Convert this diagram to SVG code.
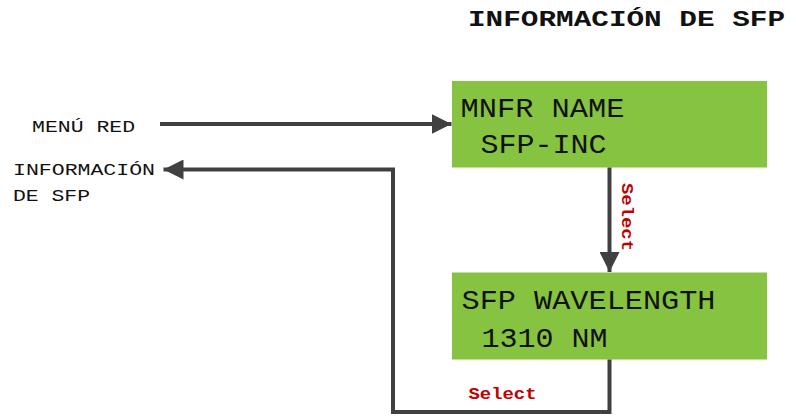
<svg xmlns="http://www.w3.org/2000/svg" width="796" height="417" viewBox="0 0 796 417">
  <style>
    .mono { font-family: "Courier New", "Liberation Mono", monospace; fill: #111; }
    .lcd { font-size: 27px; }
    .side { font-size: 16px; }
    .title { font-size: 22px; font-weight: bold; }
    .sel { font-family: "Courier New", "Liberation Mono", monospace; font-size: 16px; font-weight: bold; fill: #c00000; }
    .box { fill: #86c340; }
    .wire { fill: none; stroke: #404040; stroke-width: 4; }
  </style>
  <defs>
    <marker id="arrow" viewBox="0 0 20 20" refX="20" refY="10" markerWidth="20" markerHeight="20" markerUnits="userSpaceOnUse" orient="auto">
      <path d="M0,0 L20,10 L0,20 Z" fill="#404040"/>
    </marker>
  </defs>

  <text class="mono title" x="468" y="26" textLength="317" lengthAdjust="spacingAndGlyphs">INFORMACIÓN DE SFP</text>

  <g id="menu-red">
    <text class="mono side" x="32" y="131.5" textLength="103" lengthAdjust="spacingAndGlyphs">MENÚ RED</text>
  </g>

  <g id="info-sfp">
    <text class="mono side" x="13" y="174.5" textLength="142" lengthAdjust="spacingAndGlyphs">INFORMACIÓN</text>
    <text class="mono side" x="13" y="200.5" textLength="77" lengthAdjust="spacingAndGlyphs">DE SFP</text>
  </g>

  <g id="mnfr-name">
    <rect class="box" x="452" y="81" width="315" height="86.5"/>
    <text class="mono lcd" x="460.5" y="116.5" textLength="164" lengthAdjust="spacingAndGlyphs">MNFR NAME</text>
    <text class="mono lcd" x="480.5" y="153" textLength="126" lengthAdjust="spacingAndGlyphs">SFP-INC</text>
  </g>

  <g id="sfp-wavelength">
    <rect class="box" x="452" y="272.5" width="315" height="87"/>
    <text class="mono lcd" x="461.5" y="309" textLength="254" lengthAdjust="spacingAndGlyphs">SFP WAVELENGTH</text>
    <text class="mono lcd" x="481.5" y="347" textLength="126" lengthAdjust="spacingAndGlyphs">1310 NM</text>
  </g>

  <g id="connectors">
    <path class="wire" d="M160,124 H451.5" marker-end="url(#arrow)"/>
    <path class="wire" d="M609.5,167.5 V272" marker-end="url(#arrow)"/>
    <path class="wire" d="M609.5,359.5 V412 H393 V169.5 H163.5" marker-end="url(#arrow)"/>
    <text class="sel" transform="translate(621.5,183) rotate(90)" x="0" y="0" textLength="68" lengthAdjust="spacingAndGlyphs">Select</text>
    <text class="sel" x="468.5" y="398.5" textLength="68" lengthAdjust="spacingAndGlyphs">Select</text>
  </g>
</svg>
